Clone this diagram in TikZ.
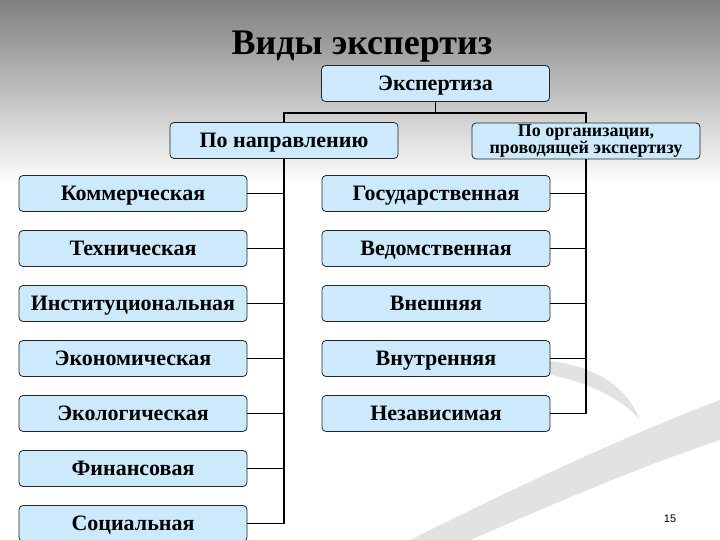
\documentclass[tikz,border=0pt]{standalone}
\usepackage{fontspec}
\setmainfont{Liberation Serif}
\setsansfont{Liberation Sans}
\usepackage{xcolor}
\usetikzlibrary{positioning, calc}
\definecolor{boxblue}{RGB}{204,234,252}
\definecolor{swoosh}{RGB}{226,226,226}

\begin{document}
\begin{tikzpicture}[
  x=1pt, y=-1pt,
  box/.style={draw=black!85, line width=0.8pt, rounded corners=4pt, fill=boxblue,
              minimum width=228pt, minimum height=36pt, inner sep=1pt,
              text height=16pt, text depth=2pt,
              font=\fontsize{22}{24}\selectfont\bfseries},
  smallbox/.style={box, align=center, text height=, text depth=,
                   font=\fontsize{18}{14}\selectfont\bfseries},
  link/.style={line width=1.7pt, black},
]
% Page and background
\useasboundingbox (0,0) rectangle (720,540);
\fill[white] (0,0) rectangle (720,540);
\shade[top color=black!50, bottom color=white] (0,0) rectangle (720,185);

% Faint swoosh at the bottom right
\fill[swoosh] (410,540) .. controls (530,480) and (640,430) .. (720,400)
  -- (720,440) .. controls (630,470) and (540,510) .. (470,540) -- cycle;
\fill[swoosh] (480,365) .. controls (560,350) and (620,370) .. (640,420)
  .. controls (610,385) and (550,370) .. (480,365) -- cycle;

% Title
\node[font=\fontsize{36}{38}\selectfont\bfseries] (title) at (362,47) {Виды экспертиз};

% Top levels
\node[box]      (root) at (435.5,83.5) {Экспертиза};
\node[box]      (dir)  at (284,140.5)  {По направлению};
\node[smallbox] (org)  at (586,141)    {По организации,\\проводящей экспертизу};
\coordinate (split) at (435.5,113);

% Left column: by direction
\node[box] (comm) at (133,193.5) {Коммерческая};
\node[box] (tech) at (133,248.5) {Техническая};
\node[box] (inst) at (133,303.5) {Институциональная};
\node[box] (econ) at (133,358.5) {Экономическая};
\node[box] (ecol) at (133,413.5) {Экологическая};
\node[box] (fin)  at (133,468.5) {Финансовая};
\node[box] (soc)  at (133,523.5) {Социальная};

% Right column: by organisation
\node[box] (state) at (436,193.5) {Государственная};
\node[box] (dept)  at (436,248.5) {Ведомственная};
\node[box] (ext)   at (436,303.5) {Внешняя};
\node[box] (int)   at (436,358.5) {Внутренняя};
\node[box] (indep) at (436,413.5) {Независимая};

% Tree connectors
\draw[link] (root.south) -- (split);
\draw[link] (dir.north) |- (split) -| (org.north);

\draw[link] (dir.south) |- (soc.east);
\draw[link] (comm.east) -- (comm.east -| dir.south);
\draw[link] (tech.east) -- (tech.east -| dir.south);
\draw[link] (inst.east) -- (inst.east -| dir.south);
\draw[link] (econ.east) -- (econ.east -| dir.south);
\draw[link] (ecol.east) -- (ecol.east -| dir.south);
\draw[link] (fin.east)  -- (fin.east -| dir.south);

\draw[link] (org.south) |- (indep.east);
\draw[link] (state.east) -- (state.east -| org.south);
\draw[link] (dept.east)  -- (dept.east -| org.south);
\draw[link] (ext.east)   -- (ext.east -| org.south);
\draw[link] (int.east)   -- (int.east -| org.south);

% Page number
\node[font=\sffamily\fontsize{11}{12}\selectfont] (pnum) at (670,519) {15};
\end{tikzpicture}
\end{document}
